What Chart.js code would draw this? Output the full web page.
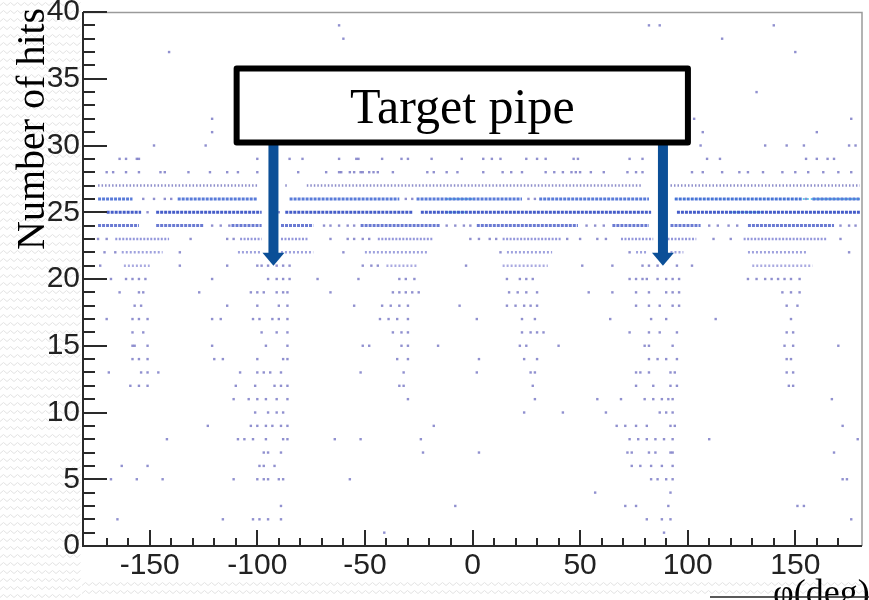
<!DOCTYPE html>
<html><head><meta charset="utf-8">
<script src="https://cdn.jsdelivr.net/npm/chart.js@4.4.1/dist/chart.umd.min.js"></script>
<style>html,body{margin:0;padding:0;background:#fff;overflow:hidden}#wrap{width:869px;height:600px;position:relative}</style>
</head><body><div id="wrap"><canvas id="c" width="869" height="600"></canvas></div>
<script>
// ---- axis ticks ----
const xTickValues = [-150, -100, -50, 0, 50, 100, 150];
const yTickValues = [0, 5, 10, 15, 20, 25, 30, 35, 40];
const xTitle = 'φ(deg)';
const yTitle = 'Number of hits';

// ---- sparse hits: level (number of hits) and phi values of filled bins ----
const sparseHits = [39, 38, 37, 34, 32, 31, 30, 29, 28, 26, 25, 24, 23, 22, 21, 20, 19, 18, 17, 16, 15, 14, 13, 12, 11, 10, 9, 8, 7, 6, 5, 4, 3, 2, 1];
const sparsePhi = [
  [-62, 82, 87, 140],
  [-60, 116],
  [-141, 150],
  [132],
  [-121, 103, 176],
  [-121, 107, 160],
  [-148, -124, 106, 136, 146, 154, 175, 178],
  [-164, -161, -156, -155, -100, -85, -79, -62, -54, -53, -42, -33, -30, -19, -5, 5, 9, 13, 25, 30, 34, 47, 49, 73, 79, 109, 115, 155, 160, 165, 168],
  [-170, -167, -161, -155, -145, -143, -132, -122, -114, -109, -100, -81, -68, -62, -61, -57, -55, -52, -51, -48, -46, -44, -37, -21, -18, -12, -7, 5, 14, 18, 23, 34, 38, 42, 46, 48, 50, 55, 61, 72, 76, 79, 102, 107, 116, 124, 128, 135, 144, 150, 156, 163, 170, 176],
  [-153, -148, -143, -140, -31, -28, 26, 29, 155],
  [-151, -90],
  [-121, -117, -113, -69, -66, -62, -58, -55, -12, -8, -4, -1, 53, 57, 61, 88, 110, 114, 119, 123, 171, 175, 178],
  [-174, -170, -131, -114, -111, -66, -58, -55, -51, -48, -1, 3, 8, 11, 44, 50, 58, 62, 112, 120, 171],
  [-171, -166, -136, -60, 13, 73, 175],
  [-173, -136, -114, -100, -98, -95, -91, -88, -85, -51, -47, -44, -3, 51, 65, 79, 82, 86, 95, 102],
  [-168, -161, -158, -155, -152, -121, -95, -91, -88, -85, -72, -53, -34, -31, -27, 16, 22, 25, 28, 73, 76, 79, 81, 86, 90, 93, 96, 128, 132, 136, 139, 142, 145, 148, 152],
  [-164, -155, -153, -127, -103, -100, -97, -91, -88, -86, -66, -37, -34, -31, -28, -25, 17, 21, 25, 30, 54, 65, 76, 82, 90, 93, 96, 144, 148, 152],
  [-157, -154, -114, -100, -90, -86, -55, -42, -38, -34, -30, -6, 16, 20, 24, 27, 30, 76, 82, 87, 93, 96, 146, 151],
  [-170, -158, -155, -151, -121, -117, -102, -99, -93, -90, -86, -43, -39, -35, -30, 2, 23, 29, 64, 83, 90, 113, 148],
  [-158, -153, -98, -91, -86, -37, -33, -30, 23, 27, 30, 33, 73, 82, 87, 95, 146, 149],
  [-158, -157, -151, -121, -96, -86, -51, -48, -33, -30, -16, 22, 25, 40, 80, 82, 93, 145, 149, 170],
  [-158, -155, -151, -120, -116, -100, -88, -86, -35, -30, 3, 24, 30, 82, 86, 90, 95, 146, 148],
  [-169, -154, -151, -146, -108, -100, -97, -94, -89, -52, -32, 2, 27, 29, 76, 78, 82, 92, 94, 146, 149],
  [-159, -155, -151, -110, -101, -92, -89, -86, -34, -32, 28, 76, 84, 92, 95, 147, 149],
  [-111, -104, -100, -96, -91, -86, -30, 29, 58, 69, 80, 84, 88, 91, 93, 167],
  [-101, -95, -91, -88, 24, 42, 62, 87, 90, 93],
  [-123, -103, -100, -96, -93, -89, -86, -18, 67, 71, 76, 81, 92, 94, 172],
  [-142, -109, -106, -102, -96, -88, -86, -64, -52, -24, 73, 77, 81, 85, 89, 93, 110, 179],
  [-97, -95, -89, -23, 3, 72, 74, 82, 85, 92, 93, 168],
  [-163, -151, -99, -97, -92, 74, 78, 83, 88, 93],
  [-168, -156, -144, -111, -100, -97, -95, -90, -88, -57, 83, 86, 90, 93, 172, 174],
  [57, 92],
  [-89, -8, 71, 76, 91, 151, 154],
  [-165, -116, -102, -99, -95, -89, 81, 88, 92, 176],
  [-41, 89]
];

// ---- runs of consecutive filled bins: level and [from, to] phi ranges ----
const runHits = [27, 26, 25, 24, 23, 22, 21];
const runPhi = [
  [[-174, -100], [-87, -86], [-77, 79], [92, 180]],
  [[-174, -158], [-137, -100], [-85, -34], [-26, 23], [31, 82], [94, 153], [158, 180]],
  [[-170, -154], [-147, -98], [-87, -28], [-24, 83], [95, 180]],
  [[-174, -155], [-147, -125], [-112, -98], [-89, -74], [-52, -15], [2, 49], [65, 82], [92, 106], [128, 168]],
  [[-166, -141], [-108, -98], [-89, -76], [-44, -18], [14, 41], [69, 84], [89, 104], [126, 165]],
  [[-163, -144], [-109, -98], [-89, -74], [-50, -21], [16, 37], [76, 81], [92, 98], [128, 155]],
  [[-162, -150], [-40, -26], [14, 35], [130, 158]]
];
// higher-count (lighter) bins on top of the runs
const hotHits = [26, 25];
const hotPhi = [
  [[94, 180], [-12, 0]],
  [[-12, -3], [120, 135]]
];

// ---- annotation ----
const boxText = 'Target pipe';
const boxPhi = [-111, 101.5];
const boxHits = [30, 36];
const arrowPhi = [-92.5, 88.5];
const arrowTipHits = 21;

// ---------------- build datasets ----------------
function runsToData(y, runs) {
  const d = [];
  runs.forEach(([a, b]) => { d.push({x: a, y: y}, {x: b, y: y}, {x: b, y: null}); });
  return d;
}
const runStyle = {
  27: {c: 'rgba(105,105,185,0.75)', w: 2.5, dash: [1.5, 2]},
  26: {c: 'rgba(60,100,210,0.85)', w: 3, dash: [3, 1]},
  25: {c: 'rgba(50,75,195,0.9)', w: 3, dash: [3, 1]},
  24: {c: 'rgba(70,90,200,0.8)', w: 3, dash: [3, 1]},
  23: {c: 'rgba(90,95,200,0.65)', w: 2.5, dash: [2, 1.5]},
  22: {c: 'rgba(95,100,200,0.6)', w: 2.5, dash: [2, 2]},
  21: {c: 'rgba(100,100,200,0.55)', w: 2.5, dash: [2, 2]}
};
const datasets = [];
runHits.forEach((h, i) => {
  const s = runStyle[h];
  datasets.push({
    type: 'line', data: runsToData(h, runPhi[i]), showLine: true, spanGaps: false,
    borderColor: s.c, borderWidth: s.w, borderDash: s.dash, pointRadius: 0,
    borderCapStyle: 'butt', tension: 0
  });
});
hotHits.forEach((h, i) => {
  datasets.push({
    type: 'line', data: runsToData(h, hotPhi[i]), showLine: true, spanGaps: false,
    borderColor: 'rgba(70,190,230,0.8)', borderWidth: 2, borderDash: [2, 2], pointRadius: 0,
    borderCapStyle: 'butt', tension: 0
  });
});
const pts = [];
sparseHits.forEach((h, i) => sparsePhi[i].forEach(p => pts.push({x: p, y: h})));
datasets.push({
  type: 'scatter', data: pts, pointStyle: 'rect', pointRadius: 1.7, pointHoverRadius: 1.7,
  backgroundColor: 'rgba(70,70,175,0.6)', borderWidth: 0
});

// ---------------- plugins ----------------
const bgPlugin = {
  id: 'bg',
  beforeDraw(chart) {
    const ctx = chart.ctx;
    ctx.save();
    ctx.fillStyle = '#fff';
    ctx.fillRect(0, 0, chart.width, chart.height);
    ctx.strokeStyle = '#e3e3e3';
    ctx.lineWidth = 1;
    function waves(x0, x1, y0, y1) {
      for (let y = y0; y < y1; y += 8) {
        ctx.beginPath();
        let k = 0;
        for (let x = x0; x <= x1; x += 3.5) {
          const yy = y + (k % 2 ? -1.5 : 1.5);
          if (k === 0) ctx.moveTo(x, yy); else ctx.lineTo(x, yy);
          k++;
        }
        ctx.stroke();
      }
    }
    waves(0, 82, 4, 600);
    waves(82, chart.width, 584, 600);
    ctx.restore();
  }
};

const framePlugin = {
  id: 'frame',
  afterDatasetsDraw(chart) {
    const ctx = chart.ctx, xs = chart.scales.x, ys = chart.scales.y;
    const a = chart.chartArea;
    ctx.save();
    // frame
    ctx.strokeStyle = '#9a9a9a'; ctx.lineWidth = 1.5;
    ctx.beginPath(); ctx.moveTo(a.left, a.top + 0.5); ctx.lineTo(a.right, a.top + 0.5); ctx.lineTo(a.right, a.bottom); ctx.stroke();
    // axes
    ctx.strokeStyle = '#2a2a2a'; ctx.lineWidth = 2;
    ctx.beginPath(); ctx.moveTo(a.left, a.top); ctx.lineTo(a.left, a.bottom); ctx.lineTo(a.right, a.bottom); ctx.stroke();
    // y ticks
    ctx.lineWidth = 2;
    for (let v = ys.min; v <= ys.max; v++) {
      const y = Math.round(ys.getPixelForValue(v));
      const len = v % 5 === 0 ? 24 : 12;
      ctx.beginPath(); ctx.moveTo(a.left, y); ctx.lineTo(a.left + len, y); ctx.stroke();
    }
    // x ticks
    for (let v = -170; v <= 170; v += 10) {
      const x = Math.round(xs.getPixelForValue(v));
      const len = v % 50 === 0 ? 16 : 8;
      ctx.beginPath(); ctx.moveTo(x, a.bottom); ctx.lineTo(x, a.bottom - len); ctx.stroke();
    }
    // annotation box
    const L = xs.getPixelForValue(boxPhi[0]), R = xs.getPixelForValue(boxPhi[1]);
    const T = ys.getPixelForValue(boxHits[1]), B = ys.getPixelForValue(boxHits[0]);
    ctx.fillStyle = '#fff';
    ctx.fillRect(L, T, R - L, B - T);
    // arrows
    ctx.fillStyle = '#0b4f97';
    arrowPhi.forEach(p => {
      const x = xs.getPixelForValue(p);
      const tip = ys.getPixelForValue(arrowTipHits);
      const base = tip - 13;
      ctx.fillRect(x - 5, B - 4, 10, base - B + 5);
      ctx.beginPath(); ctx.moveTo(x - 11, base); ctx.lineTo(x + 11, base); ctx.lineTo(x, tip); ctx.closePath(); ctx.fill();
    });
    ctx.strokeStyle = '#000'; ctx.lineWidth = 6; ctx.lineJoin = 'round';
    ctx.strokeRect(L + 3, T + 3, R - L - 6, B - T - 6);
    ctx.fillStyle = '#000';
    ctx.font = '50px "Liberation Serif", "DejaVu Serif", serif';
    ctx.textAlign = 'center'; ctx.textBaseline = 'alphabetic';
    ctx.fillText(boxText, (L + R) / 2, B - 23);
    ctx.restore();
  },
  afterDraw(chart) {
    const ctx = chart.ctx;
    ctx.save();
    ctx.fillStyle = '#000';
    ctx.font = '40px "Liberation Serif", "DejaVu Serif", serif';
    ctx.translate(44, 250);
    ctx.rotate(-Math.PI / 2);
    ctx.textAlign = 'left'; ctx.textBaseline = 'alphabetic';
    ctx.fillText(yTitle, 0, 0);
    ctx.restore();
    ctx.save();
    ctx.fillStyle = '#000';
    ctx.font = '36px "Liberation Serif", "DejaVu Serif", serif';
    ctx.textAlign = 'left'; ctx.textBaseline = 'alphabetic';
    ctx.fillText(xTitle, 773, 604);
    ctx.strokeStyle = '#222'; ctx.lineWidth = 1.5;
    ctx.beginPath(); ctx.moveTo(710, 597); ctx.lineTo(869, 597); ctx.stroke();
    ctx.restore();
  }
};

const tickFont = {family: '"Liberation Sans", Arial, sans-serif', size: 30};
new Chart(document.getElementById('c'), {
  type: 'scatter',
  data: {datasets: datasets},
  options: {
    responsive: false, animation: false, events: [],
    layout: {padding: {left: 0, top: 12, right: 7, bottom: 0}},
    plugins: {legend: {display: false}, tooltip: {enabled: false}},
    scales: {
      x: {
        type: 'linear', min: -181, max: 181,
        grid: {display: false, drawTicks: false}, border: {display: false},
        ticks: {font: tickFont, color: '#222', padding: 2, autoSkip: false, maxRotation: 0, minRotation: 0},
        afterBuildTicks(s) { s.ticks = xTickValues.map(v => ({value: v})); },
        afterFit(s) { s.height = 54; s.paddingLeft = 0; s.paddingRight = 0; }
      },
      y: {
        type: 'linear', min: 0, max: 40,
        grid: {display: false, drawTicks: false}, border: {display: false},
        ticks: {font: tickFont, color: '#222', padding: 3, autoSkip: false},
        afterBuildTicks(s) { s.ticks = yTickValues.map(v => ({value: v})); },
        afterFit(s) { s.width = 83; s.paddingTop = 0; s.paddingBottom = 0; }
      }
    }
  },
  plugins: [bgPlugin, framePlugin]
});
</script></body></html>
